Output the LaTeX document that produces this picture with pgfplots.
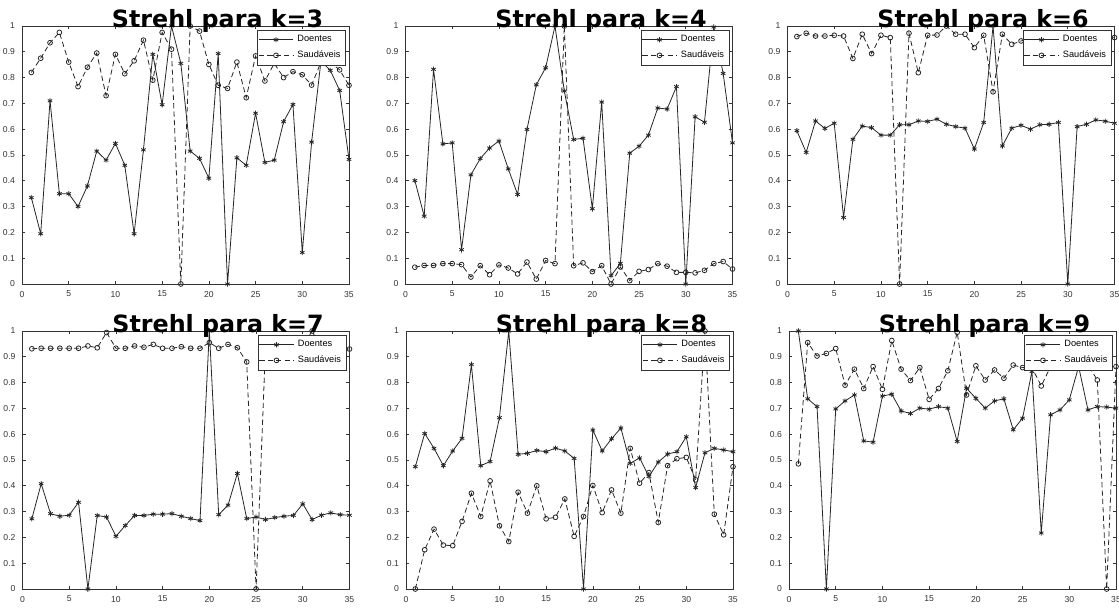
\documentclass[border=0pt]{standalone}
\usepackage{fontspec}
\setmainfont{Liberation Sans}
\newfontfamily\titlefont{DejaVu Sans}
\usepackage{pgfplots}
\usepackage{pgfplotstable}
\pgfplotsset{compat=1.18}

% columns: n, Doentes, Saudaveis
\pgfplotstableread{
n d s
1 0.335 0.82
2 0.195 0.875
3 0.71 0.935
4 0.35 0.975
5 0.35 0.86
6 0.30 0.765
7 0.38 0.84
8 0.515 0.895
9 0.48 0.73
10 0.545 0.89
11 0.46 0.815
12 0.195 0.865
13 0.52 0.945
14 0.89 0.79
15 0.695 0.975
16 1.0 0.91
17 0.855 0
18 0.515 1.0
19 0.487 0.98
20 0.41 0.851
21 0.893 0.77
22 0 0.758
23 0.489 0.86
24 0.46 0.722
25 0.662 0.884
26 0.471 0.787
27 0.48 0.855
28 0.629 0.8
29 0.696 0.823
30 0.122 0.811
31 0.55 0.771
32 0.864 0.86
33 0.828 0.858
34 0.75 0.83
35 0.483 0.77
}\kthree

\pgfplotstableread{
n d s
1 0.401 0.065
2 0.263 0.072
3 0.832 0.072
4 0.543 0.079
5 0.547 0.079
6 0.133 0.075
7 0.423 0.027
8 0.486 0.071
9 0.527 0.036
10 0.554 0.074
11 0.446 0.062
12 0.347 0.039
13 0.599 0.085
14 0.772 0.019
15 0.838 0.091
16 1.0 0.079
17 0.748 1.0
18 0.56 0.071
19 0.565 0.082
20 0.292 0.048
21 0.705 0.071
22 0.032 0.0
23 0.08 0.066
24 0.507 0.013
25 0.534 0.049
26 0.577 0.056
27 0.682 0.079
28 0.678 0.069
29 0.765 0.045
30 0 0.045
31 0.648 0.043
32 0.627 0.053
33 0.996 0.079
34 0.816 0.087
35 0.547 0.058
}\kfour

\pgfplotstableread{
n d s
1 0.594 0.959
2 0.51 0.972
3 0.632 0.961
4 0.603 0.961
5 0.623 0.964
6 0.258 0.961
7 0.561 0.874
8 0.612 0.968
9 0.606 0.893
10 0.577 0.964
11 0.577 0.955
12 0.617 0
13 0.617 0.972
14 0.632 0.819
15 0.63 0.964
16 0.639 0.965
17 0.619 1.0
18 0.61 0.968
19 0.604 0.968
20 0.523 0.916
21 0.626 0.964
22 1.0 0.745
23 0.535 0.968
24 0.604 0.929
25 0.615 0.942
26 0.6 0.95
27 0.617 0.96
28 0.619 0.95
29 0.626 0.96
30 0 0.95
31 0.61 0.96
32 0.619 0.95
33 0.636 0.96
34 0.631 0.95
35 0.623 0.955
}\ksix

\pgfplotstableread{
n d s
1 0.272 0.931
2 0.408 0.933
3 0.292 0.933
4 0.282 0.933
5 0.286 0.933
6 0.336 0.933
7 0 0.942
8 0.285 0.935
9 0.279 0.994
10 0.204 0.933
11 0.246 0.933
12 0.285 0.942
13 0.285 0.937
14 0.29 0.948
15 0.29 0.933
16 0.292 0.933
17 0.282 0.939
18 0.273 0.933
19 0.265 0.933
20 1.0 0.955
21 0.288 0.933
22 0.325 0.948
23 0.448 0.935
24 0.273 0.88
25 0.279 0
26 0.269 0.93
27 0.277 0.93
28 0.282 0.94
29 0.285 0.93
30 0.33 0.94
31 0.269 1.0
32 0.286 0.93
33 0.295 0.94
34 0.288 0.93
35 0.286 0.93
}\kseven

\pgfplotstableread{
n d s
1 0.474 0
2 0.603 0.152
3 0.545 0.232
4 0.478 0.17
5 0.535 0.168
6 0.584 0.262
7 0.87 0.371
8 0.478 0.281
9 0.494 0.419
10 0.664 0.245
11 1.0 0.184
12 0.522 0.375
13 0.526 0.294
14 0.537 0.4
15 0.532 0.272
16 0.546 0.278
17 0.535 0.349
18 0.506 0.204
19 0 0.281
20 0.616 0.401
21 0.535 0.296
22 0.582 0.384
23 0.624 0.294
24 0.487 0.545
25 0.508 0.41
26 0.436 0.451
27 0.492 0.258
28 0.523 0.478
29 0.532 0.505
30 0.59 0.51
31 0.393 0.423
32 0.528 1.0
33 0.545 0.29
34 0.539 0.21
35 0.532 0.474
}\keight

\pgfplotstableread{
n d s
1 1.0 0.485
2 0.737 0.955
3 0.707 0.903
4 0 0.913
5 0.698 0.932
6 0.729 0.79
7 0.752 0.852
8 0.574 0.777
9 0.569 0.862
10 0.748 0.774
11 0.755 0.963
12 0.69 0.852
13 0.68 0.808
14 0.701 0.858
15 0.697 0.735
16 0.707 0.777
17 0.701 0.846
18 0.572 0.995
19 0.778 0.752
20 0.739 0.865
21 0.701 0.81
22 0.729 0.849
23 0.737 0.817
24 0.617 0.868
25 0.662 0.858
26 0.843 0.858
27 0.217 0.787
28 0.675 0.862
29 0.694 0.862
30 0.733 0.862
31 0.862 0.862
32 0.694 0.868
33 0.707 0.81
34 0.705 0
35 0.701 0.862
}\knine

\pgfplotsset{
  strehl/.style={
    width=163.5pt, height=129pt, scale only axis,
    xmin=0, xmax=35, ymin=0, ymax=1,
    xtick={0,5,10,15,20,25,30,35},
    ytick={0,0.1,0.2,0.3,0.4,0.5,0.6,0.7,0.8,0.9,1},
    yticklabels={0,0.1,0.2,0.3,0.4,0.5,0.6,0.7,0.8,0.9,1},
    /pgf/number format/assume math mode=true,
    tick label style={font=\fontsize{4.3}{5}\selectfont, text=black!80},
    major tick length=1.6pt,
    tick style={black!80, line width=0.3pt},
    axis line style={black!80, line width=0.35pt},
    clip=false,
    title style={at={(0.598,1)}, anchor=base, yshift=-6.9pt,
      font=\titlefont\bfseries\fontsize{11.9}{13}\selectfont},
    legend cell align=left,
    legend style={at={(rel axis cs:0.99,0.985)}, anchor=north east,
      font=\fontsize{4.6}{5}\selectfont, draw=black!80, line width=0.3pt,
      inner sep=0.5pt, row sep=-1pt},
  },
  doe/.style={black!85, line width=0.4pt, mark=asterisk, mark size=1.3pt},
  sau/.style={black!85, line width=0.4pt, dash pattern=on 2.6pt off 1.6pt,
    mark=o, mark size=1.2pt, mark options={solid}},
}

\begin{document}
\begin{tikzpicture}
\path[use as bounding box] (0,0) rectangle (559.5pt,304pt);

\begin{axis}[strehl, at={(11pt,291pt)}, anchor=north west, title={Strehl para k=3}]
  \addplot[doe] table[x=n, y=d] {\kthree};
  \addplot[sau] table[x=n, y=s] {\kthree};
  \legend{Doentes, Saudáveis}
\end{axis}

\begin{axis}[strehl, at={(202.75pt,291pt)}, anchor=north west, title={Strehl para k=4}]
  \addplot[doe] table[x=n, y=d] {\kfour};
  \addplot[sau] table[x=n, y=s] {\kfour};
  \legend{Doentes, Saudáveis}
\end{axis}

\begin{axis}[strehl, at={(393.75pt,291pt)}, anchor=north west, title={Strehl para k=6}]
  \addplot[doe] table[x=n, y=d] {\ksix};
  \addplot[sau] table[x=n, y=s] {\ksix};
  \legend{Doentes, Saudáveis}
\end{axis}

\begin{axis}[strehl, at={(11.25pt,138.5pt)}, anchor=north west, title={Strehl para k=7}]
  \addplot[doe] table[x=n, y=d] {\kseven};
  \addplot[sau] table[x=n, y=s] {\kseven};
  \legend{Doentes, Saudáveis}
\end{axis}

\begin{axis}[strehl, at={(203pt,138.5pt)}, anchor=north west, title={Strehl para k=8}]
  \addplot[doe] table[x=n, y=d] {\keight};
  \addplot[sau] table[x=n, y=s] {\keight};
  \legend{Doentes, Saudáveis}
\end{axis}

\begin{axis}[strehl, at={(394.5pt,138.5pt)}, anchor=north west, title={Strehl para k=9}]
  \addplot[doe] table[x=n, y=d] {\knine};
  \addplot[sau] table[x=n, y=s] {\knine};
  \legend{Doentes, Saudáveis}
\end{axis}
\end{tikzpicture}
\end{document}
